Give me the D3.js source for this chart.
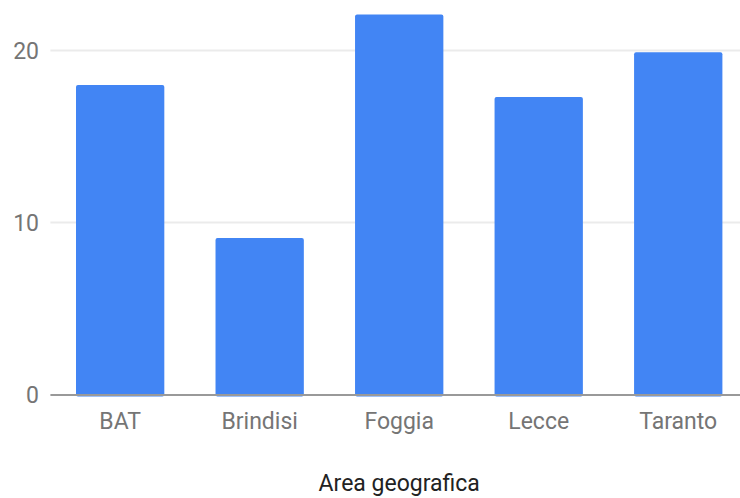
<!DOCTYPE html>
<html>
<head>
<meta charset="utf-8">
<script src="https://cdn.jsdelivr.net/npm/d3@7"></script>
<style>
  html, body { margin: 0; padding: 0; background: #fff; }
  svg { display: block; font-family: Roboto, "Noto Sans", sans-serif; }
</style>
</head>
<body>
<script>
// data
var categories = ["BAT", "Brindisi", "Foggia", "Lecce", "Taranto"];
var values = [18.0, 9.1, 22.1, 17.3, 19.9];
var yTicks = [0, 10, 20];
var xTitle = "Area geografica";

var width = 740, height = 498;
var margin = { left: 50.4, right: -8, top: 50.5, bottom: 103.5 };

var svg = d3.select("body").append("svg")
    .attr("width", width)
    .attr("height", height);

var x = d3.scaleBand()
    .domain(categories)
    .range([margin.left, width - margin.right])
    .paddingInner(0.367)
    .paddingOuter(0.1835);

var y = d3.scaleLinear()
    .domain([0, 20])
    .range([height - margin.bottom, margin.top]);

// gridlines
svg.append("g").selectAll("line")
    .data(yTicks.filter(function(d) { return d > 0; }))
    .enter().append("line")
    .attr("x1", margin.left)
    .attr("x2", width)
    .attr("y1", function(d) { return y(d); })
    .attr("y2", function(d) { return y(d); })
    .attr("stroke", "#ebebeb")
    .attr("stroke-width", 2);

// bars
svg.append("g").selectAll("rect")
    .data(values)
    .enter().append("rect")
    .attr("x", function(d, i) { return x(categories[i]); })
    .attr("width", x.bandwidth())
    .attr("y", function(d) { return y(d); })
    .attr("height", function(d) { return y(0) - y(d) + 2; })
    .attr("rx", 2)
    .attr("fill", "#4285f4");

// baseline
svg.append("line")
    .attr("x1", margin.left)
    .attr("x2", width)
    .attr("y1", y(0) + 0.5)
    .attr("y2", y(0) + 0.5)
    .attr("stroke", "#999")
    .attr("stroke-width", 2);

// y tick labels
svg.append("g").selectAll("text")
    .data(yTicks)
    .enter().append("text")
    .attr("x", 39)
    .attr("y", function(d) { return y(d); })
    .attr("dy", "0.36em")
    .attr("text-anchor", "end")
    .attr("font-size", 23)
    .attr("fill", "#757575")
    .text(function(d) { return d; });

// x tick labels
svg.append("g").selectAll("text")
    .data(categories)
    .enter().append("text")
    .attr("x", function(d) { return x(d) + x.bandwidth() / 2; })
    .attr("y", 429)
    .attr("text-anchor", "middle")
    .attr("font-size", 23)
    .attr("fill", "#757575")
    .text(function(d) { return d; });

// axis title
svg.append("text")
    .attr("x", (x.range()[0] + x.range()[1]) / 2)
    .attr("y", 491)
    .attr("text-anchor", "middle")
    .attr("font-size", 23)
    .attr("fill", "#222")
    .text(xTitle);
</script>
</body>
</html>
